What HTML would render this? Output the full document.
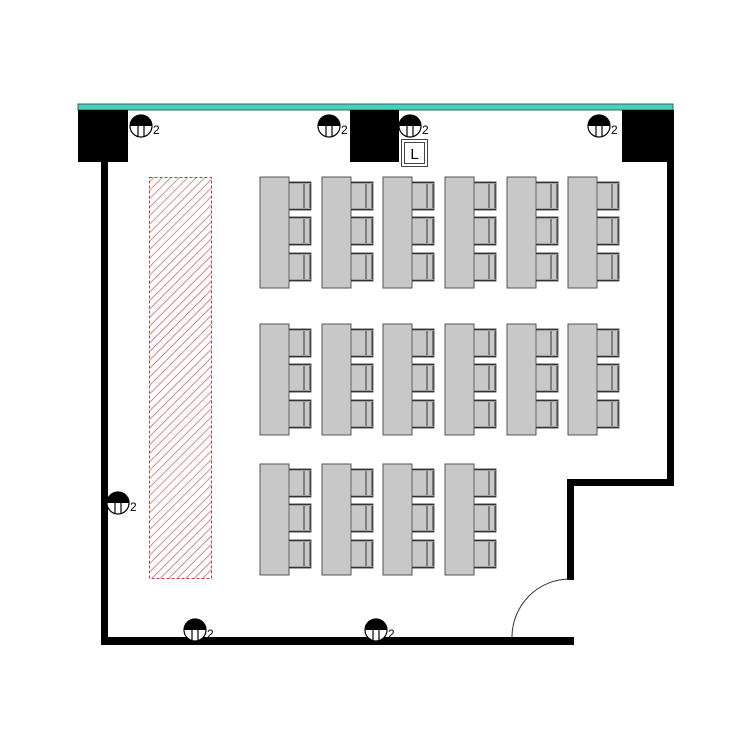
<!DOCTYPE html>
<html><head><meta charset="utf-8"><style>
html,body{margin:0;padding:0;background:#fff;width:750px;height:750px;overflow:hidden}
</style></head><body>
<svg width="750" height="750" viewBox="0 0 750 750" xmlns="http://www.w3.org/2000/svg" font-family="Liberation Sans, sans-serif">
<defs>
<pattern id="h" patternUnits="userSpaceOnUse" width="6" height="6" patternTransform="rotate(45)">
<line x1="0" y1="0" x2="0" y2="6" stroke="#c05050" stroke-width="1.3"/>
</pattern>
<g id="lamp">
<circle cx="0" cy="0" r="11" fill="#fff" stroke="#000" stroke-width="1.2"/>
<path d="M-11,0 A11,11 0 0 1 11,0 Z" fill="#000"/>
<line x1="-3" y1="-2" x2="-3" y2="10.5" stroke="#000" stroke-width="1.2"/>
<line x1="3" y1="-2" x2="3" y2="10.5" stroke="#000" stroke-width="1.2"/>
</g>
<g id="chair">
<rect x="0" y="0" width="22" height="28" fill="#c8c8c8" stroke="#666" stroke-width="1"/>
<line x1="0" y1="0.5" x2="22" y2="0.5" stroke="#333" stroke-width="1.5"/>
<line x1="0" y1="27.5" x2="22" y2="27.5" stroke="#333" stroke-width="1.5"/>
<line x1="15" y1="2" x2="15" y2="26" stroke="#333" stroke-width="1"/>
<line x1="21" y1="2" x2="21" y2="26" stroke="#333" stroke-width="1"/>
</g>
<g id="desk">
<rect x="0" y="0" width="29" height="111" fill="#c8c8c8" stroke="#555" stroke-width="1"/>
<use href="#chair" x="29" y="5"/>
<use href="#chair" x="29" y="40"/>
<use href="#chair" x="29" y="76"/>
</g>
</defs>
<rect x="78" y="104" width="595" height="6" fill="#48d0b8" stroke="#2a6a60" stroke-width="1"/>
<rect x="78" y="110" width="50" height="52" fill="#000"/>
<rect x="350" y="110" width="49" height="52" fill="#000"/>
<rect x="622" y="110" width="50" height="52" fill="#000"/>
<rect x="101" y="110" width="7" height="535" fill="#000"/>
<rect x="101" y="637" width="473" height="8" fill="#000"/>
<rect x="667" y="110" width="7" height="376" fill="#000"/>
<rect x="567" y="479" width="107" height="7" fill="#000"/>
<rect x="567" y="479" width="7" height="101" fill="#000"/>
<path d="M512,637 A58,58 0 0 1 570,579" fill="none" stroke="#333" stroke-width="1"/>
<rect x="149.5" y="177.5" width="62" height="401" fill="url(#h)" stroke="#c04040" stroke-width="1" stroke-dasharray="3,2"/>
<use href="#desk" x="260" y="177"/><use href="#desk" x="322" y="177"/><use href="#desk" x="383" y="177"/>
<use href="#desk" x="445" y="177"/><use href="#desk" x="507" y="177"/><use href="#desk" x="568" y="177"/>
<use href="#desk" x="260" y="324"/><use href="#desk" x="322" y="324"/><use href="#desk" x="383" y="324"/>
<use href="#desk" x="445" y="324"/><use href="#desk" x="507" y="324"/><use href="#desk" x="568" y="324"/>
<use href="#desk" x="260" y="464"/><use href="#desk" x="322" y="464"/><use href="#desk" x="383" y="464"/>
<use href="#desk" x="445" y="464"/>
<g font-size="12" fill="#000">
<use href="#lamp" x="141" y="126"/><text x="153" y="134">2</text>
<use href="#lamp" x="329" y="126"/><text x="341" y="134">2</text>
<use href="#lamp" x="410" y="126"/><text x="422" y="134">2</text>
<use href="#lamp" x="599" y="126"/><text x="611" y="134">2</text>
<use href="#lamp" x="118" y="503"/><text x="130" y="511">2</text>
<use href="#lamp" x="195" y="630"/><text x="207" y="638">2</text>
<use href="#lamp" x="376" y="630"/><text x="388" y="638">2</text>
</g>
<rect x="401.5" y="139.5" width="26" height="27" fill="#fff" stroke="#444" stroke-width="1"/>
<rect x="404.5" y="142.5" width="20" height="21" fill="#fff" stroke="#444" stroke-width="1"/>
<text x="414.5" y="159" font-size="15" text-anchor="middle" fill="#000">L</text>
</svg>
</body></html>
